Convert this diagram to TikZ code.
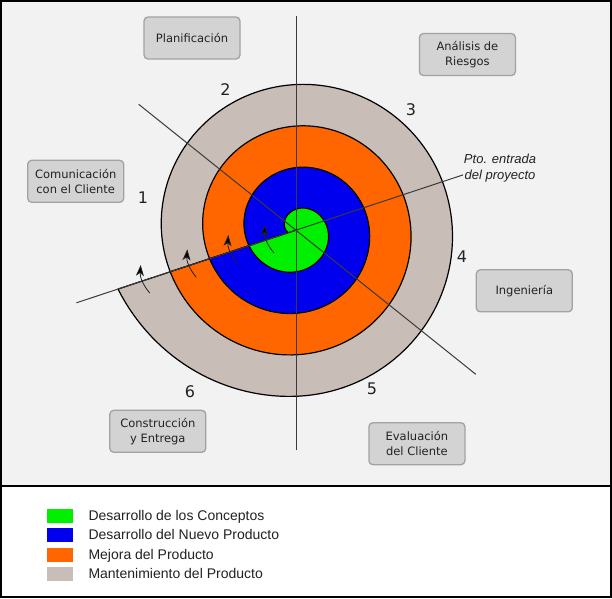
\documentclass[tikz,border=0pt]{standalone}
\usepackage{fontspec}
\setmainfont{DejaVu Sans}
\newfontfamily\legfont{Liberation Sans}
\usetikzlibrary{arrows.meta}
\definecolor{bgpanel}{HTML}{F2F2F2}
\definecolor{boxfill}{HTML}{D3D3D3}
\definecolor{boxline}{HTML}{A2A2A2}
\definecolor{concept}{HTML}{00F000}
\definecolor{nuevo}{HTML}{0000EE}
\definecolor{mejora}{HTML}{FF6600}
\definecolor{maint}{HTML}{C8BEB7}
\definecolor{txt}{HTML}{222222}
\definecolor{guide}{HTML}{3A3A3A}
\tikzset{
  phasebox/.style={draw=boxline, fill=boxfill, line width=1.3pt, rounded corners=4pt,
    minimum width=96pt, minimum height=42pt, inner sep=2pt, align=center, text=txt,
    font=\fontsize{11.5}{15.4}\selectfont},
  turnnum/.style={text=txt, inner sep=0pt, font=\fontsize{16}{19}\selectfont},
  spiralband/.style={draw=black, line width=1.2pt, line join=round},
  guideline/.style={draw=guide, line width=1pt},
  cyclearrow/.style={draw=txt, line width=0.8pt, -{Stealth[length=11pt,width=8pt,inset=3pt,fill=black]}},
  legsq/.style={minimum width=26pt, minimum height=14pt, inner sep=0pt, draw=none},
  legtext/.style={anchor=base west, inner sep=0pt, text=txt, font=\legfont\fontsize{14}{17}\selectfont}
}
\begin{document}
\begin{tikzpicture}[x=1pt,y=1pt]
\useasboundingbox (0,0) rectangle (612,-598);
% panels
\fill[bgpanel] (0,0) rectangle (612,-486);
\fill[white] (0,-486) rectangle (612,-598);
\coordinate (sepL) at (0,-486);
\coordinate (sepR) at (612,-486);
\draw[black, line width=2.6pt] (sepL) -- (sepR);
\draw[black, line width=2pt] (1,-1) rectangle (611,-597);

% spiral
\begin{scope}[shift={(296.5,-230)}]
  \coordinate (O) at (0,0);
  \filldraw[spiralband, fill=maint] (O) -- plot[domain=198.3:-161.7, samples=160, variable=\t]
    ({\t}:{21+0.11528*(1170-(\t))+13.5*(max(0,-90-(\t))/71.7)^2}) -- cycle;
  \filldraw[spiralband, fill=mejora] (O) -- plot[domain=198.3:-161.7, samples=140, variable=\t]
    ({\t}:{21+0.11528*(810-(\t))}) -- cycle;
  \filldraw[spiralband, fill=nuevo] (O) -- plot[domain=198.3:-161.7, samples=120, variable=\t]
    ({\t}:{21+0.11528*(450-(\t))}) -- cycle;
  \filldraw[spiralband, fill=concept] (O) -- plot[domain=198.3:-161.7, samples=100, variable=\t]
    ({\t}:{21+0.11528*(90-(\t))}) -- cycle;
\end{scope}

% guide lines
\coordinate (vtop) at (296.5,-16);
\coordinate (vbot) at (296.5,-450);
\coordinate (d1a) at (138.7,-104.3);
\coordinate (d1b) at (475.8,-374.3);
\coordinate (d2a) at (76.4,-302.8);
\coordinate (d2b) at (463,-174.9);
\draw[guideline] (vtop) -- (vbot);
\draw[guideline] (d1a) -- (d1b);
\draw[guideline] (d2a) -- (d2b);

% cycle arrows
\begin{scope}[shift={(296.5,-230)}]
  \coordinate (h1) at (-155.8,-35);  \coordinate (t1) at (-146.8,-63);
  \coordinate (h2) at (-109.2,-19.3); \coordinate (t2) at (-100.2,-47.3);
  \coordinate (h3) at (-68.2,-5);    \coordinate (t3) at (-59.2,-33);
  \coordinate (h4) at (-31.5,5);     \coordinate (t4) at (-22.5,-23);
  \draw[cyclearrow] (t1) to[bend left=22] (h1);
  \draw[cyclearrow] (t2) to[bend left=22] (h2);
  \draw[cyclearrow] (t3) to[bend left=22] (h3);
  \draw[cyclearrow] (t4) to[bend left=22] (h4);
\end{scope}

% phase boxes
\node[phasebox] (plan) at (192,-38) {Planificación};
\node[phasebox] (riesgo) at (467.4,-54.5) {Análisis de\\Riesgos};
\node[phasebox] (comun) at (75.7,-181.3) {Comunicación\\con el Cliente};
\node[phasebox] (ing) at (524.3,-290.8) {Ingeniería};
\node[phasebox] (constr) at (157.8,-431.3) {Construcción\\y Entrega};
\node[phasebox] (eval) at (416.9,-443.7) {Evaluación\\del Cliente};

% turn numbers
\node[turnnum] (n1) at (143,-197.5) {1};
\node[turnnum] (n2) at (225.4,-90) {2};
\node[turnnum] (n3) at (411,-110) {3};
\node[turnnum] (n4) at (462,-257) {4};
\node[turnnum] (n5) at (372,-389) {5};
\node[turnnum] (n6) at (190,-391.7) {6};

% entry point label
\node[align=center, inner sep=0pt, text=txt, font=\legfont\itshape\fontsize{13}{15.7}\selectfont] (entry) at (500,-167.8) {Pto. entrada\\del proyecto};

% legend
\node[legsq, fill=concept] (sq1) at (60,-516.3) {};
\node[legsq, fill=nuevo]   (sq2) at (60,-535.4) {};
\node[legsq, fill=mejora]  (sq3) at (60,-554.5) {};
\node[legsq, fill=maint]   (sq4) at (60,-573.6) {};
\node[legtext] (lt1) at (88.3,-520) {Desarrollo de los Conceptos};
\node[legtext] (lt2) at (88.3,-539.5) {Desarrollo del Nuevo Producto};
\node[legtext] (lt3) at (88.3,-559) {Mejora del Producto};
\node[legtext] (lt4) at (88.3,-578.5) {Mantenimiento del Producto};
\end{tikzpicture}
\end{document}
